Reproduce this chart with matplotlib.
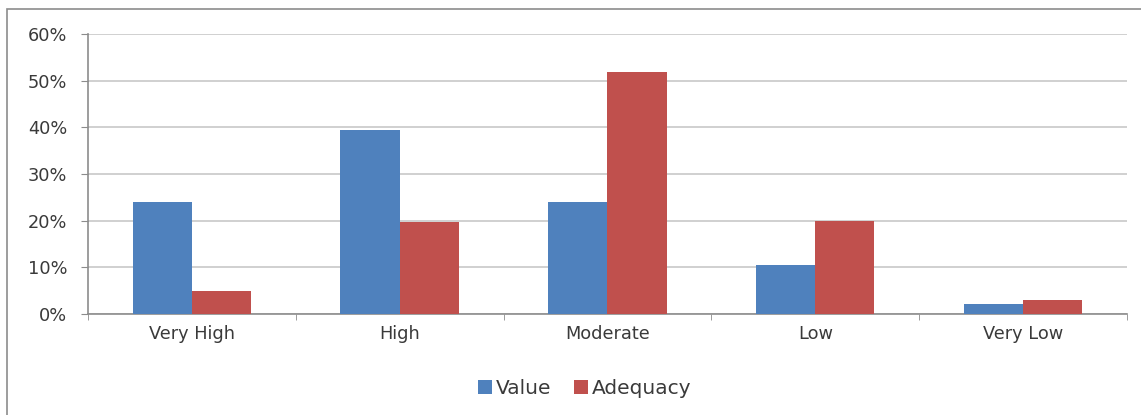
import numpy as np
import matplotlib.pyplot as plt
from matplotlib.patches import Rectangle
from matplotlib.ticker import PercentFormatter

# Survey ratings by level
categories = ["Very High", "High", "Moderate", "Low", "Very Low"]
value_pct = [23.9, 39.4, 23.9, 10.5, 2.2]
adequacy_pct = [4.9, 19.7, 51.9, 20.0, 3.1]

plt.rcParams['font.family'] = ['DejaVu Sans']

fig = plt.figure(figsize=(11.41, 4.15), dpi=100)
ax = fig.add_axes([0.0771, 0.2434, 0.9106, 0.6746])

# thin frame round the whole chart area
fig.patches.append(Rectangle((7 / 1141, -0.05), 1.2, 1 - 9 / 415 + 0.05,
                             transform=fig.transFigure, fill=False,
                             edgecolor='#8c8c8c', linewidth=1.2))

x = np.arange(len(categories))
w = 0.285
ax.bar(x - w / 2, value_pct, width=w, color='#4F81BD', label='Value', zorder=3)
ax.bar(x + w / 2, adequacy_pct, width=w, color='#C0504D', label='Adequacy', zorder=3)

ax.set_xlim(-0.5, len(categories) - 0.5)
ax.set_ylim(0, 60)
ax.set_yticks(np.arange(0, 61, 10))
ax.yaxis.set_major_formatter(PercentFormatter(decimals=0))
ax.grid(axis='y', color='#c8c8c8', linewidth=1.2, zorder=0)

fs = 12.8
ax.set_xticks(x)
ax.set_xticklabels(categories)
ax.set_xticks(np.arange(-0.5, len(categories), 1), minor=True)
ax.tick_params(axis='x', which='major', length=0, pad=8, labelsize=fs, labelcolor='#3a3a3a')
ax.tick_params(axis='x', which='minor', length=4, color='#8c8c8c', direction='out')
ax.tick_params(axis='y', length=5, color='#8c8c8c', pad=10, labelsize=fs, labelcolor='#3a3a3a')

for side in ['top', 'right']:
    ax.spines[side].set_visible(False)
for side in ['left', 'bottom']:
    ax.spines[side].set_color('#8c8c8c')
    ax.spines[side].set_linewidth(1.2)

ax.legend(loc='center', bbox_to_anchor=(0.478, -0.265), ncol=2, frameon=False,
          fontsize=14.5, handlelength=0.7, handleheight=0.7, handletextpad=0.2,
          columnspacing=1.1, labelcolor='#3a3a3a')

fig.savefig('out.png', dpi=100)
